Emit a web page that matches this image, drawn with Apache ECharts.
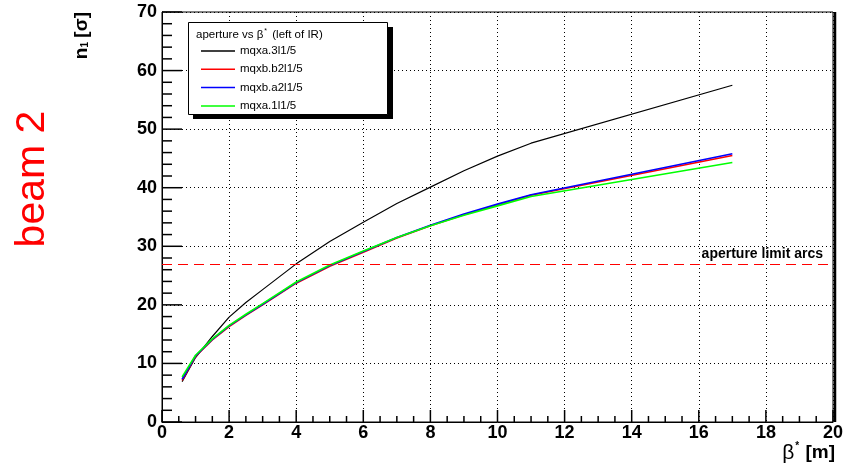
<!DOCTYPE html>
<html><head><meta charset="utf-8">
<script src="https://cdn.jsdelivr.net/npm/echarts@6/dist/echarts.min.js"></script>
<style>html,body{margin:0;padding:0;background:#fff}#c{width:846px;height:473px}</style>
</head><body><div id="c"></div>
<script>
// beta* [m]
const betaStar = [0.6, 1, 1.5, 2, 2.5, 3, 4, 5, 6, 7, 8, 9, 10, 11, 17];
const mqxa3 = [6.9, 11.0, 14.6, 17.9, 20.4, 22.6, 27.0, 30.8, 34.1, 37.3, 40.1, 42.9, 45.4, 47.6, 57.5];
const mqxbB2 = [7.1, 11.2, 14.0, 16.3, 18.2, 20.0, 23.7, 26.6, 29.0, 31.4, 33.5, 35.4, 37.1, 38.7, 45.5];
const mqxbA2 = [7.3, 11.3, 14.1, 16.4, 18.3, 20.1, 23.8, 26.7, 29.1, 31.5, 33.6, 35.5, 37.2, 38.8, 45.8];
const mqxa1 = [7.7, 11.4, 14.2, 16.5, 18.4, 20.2, 23.9, 26.8, 29.2, 31.5, 33.5, 35.3, 36.9, 38.5, 44.3];
const seriesNames = ['mqxa.3l1/5', 'mqxb.b2l1/5', 'mqxb.a2l1/5', 'mqxa.1l1/5'];
const apertureLimit = 27;
const xTicks = {min: 0, max: 20, step: 2, minorSplit: 4};
const yTicks = {min: 0, max: 70, step: 10, minorSplit: 5};

const FONT = 'Liberation Sans';
const pairs = ys => betaStar.map((x, i) => [x, ys[i]]);
const colors = ['#000000', '#ff0000', '#0000ff', '#00ff00'];
const widths = [1.2, 1.6, 1.6, 1.6];
const allData = [mqxa3, mqxbB2, mqxbA2, mqxa1];

function tickList(t) {
  const out = [];
  const minor = t.step / t.minorSplit;
  const n = Math.round((t.max - t.min) / minor);
  for (let k = 0; k <= n; k++) out.push([t.min + k * minor, k % t.minorSplit === 0 ? 1 : 0]);
  return out;
}
const xTickList = tickList(xTicks);
const yTickList = tickList(yTicks);

const chart = echarts.init(document.getElementById('c'), null, {renderer: 'canvas'});
const series = allData.map((d, i) => ({
  type: 'line', name: seriesNames[i], data: pairs(d), symbol: 'none', smooth: false,
  lineStyle: {color: colors[i], width: widths[i]}, itemStyle: {color: colors[i]}, z: 2 + i * 0.01
}));
series[0].markLine = {
  silent: true, symbol: 'none', animation: false,
  lineStyle: {color: '#ff0000', type: [10, 6], width: 1},
  label: {show: true, position: 'insideEndTop', formatter: 'aperture limit arcs',
    fontFamily: FONT, fontWeight: 'bold', fontSize: 14, color: '#000', distance: [10, 3]},
  data: [{yAxis: apertureLimit}]
};
series.push({
  type: 'custom', name: 'xticks', silent: true, clip: false, z: 10,
  data: xTickList.map(t => [t[0], yTicks.min, t[1]]),
  encode: {x: 0, y: 1},
  renderItem: (params, api) => {
    const p = api.coord([api.value(0), yTicks.min]);
    const len = api.value(2) ? 12 : 6;
    return {type: 'line', shape: {x1: p[0], y1: p[1], x2: p[0], y2: p[1] - len},
      style: {stroke: '#000000', lineWidth: 1.5, opacity: 1}};
  }
});
series.push({
  type: 'custom', name: 'yticks', silent: true, clip: false, z: 10,
  data: yTickList.map(t => [xTicks.min, t[0], t[1]]),
  encode: {x: 0, y: 1},
  renderItem: (params, api) => {
    const p = api.coord([xTicks.min, api.value(1)]);
    const len = api.value(2) ? 20 : 10;
    return {type: 'line', shape: {x1: p[0], y1: p[1], x2: p[0] + len, y2: p[1]},
      style: {stroke: '#000000', lineWidth: 1.5, opacity: 1}};
  }
});

chart.setOption({
  animation: false,
  grid: {left: 162, top: 12, right: 11, bottom: 51, show: true, borderColor: '#000', borderWidth: 1},
  xAxis: {
    type: 'value', min: xTicks.min, max: xTicks.max, interval: xTicks.step,
    axisLine: {lineStyle: {color: '#000', width: 1}},
    axisTick: {show: false}, minorTick: {show: false},
    splitLine: {show: true, lineStyle: {color: '#000', type: [1, 3], width: 1}},
    axisLabel: {fontFamily: FONT, fontWeight: 'bold', fontSize: 18, color: '#000', margin: 2}
  },
  yAxis: {
    type: 'value', min: yTicks.min, max: yTicks.max, interval: yTicks.step,
    axisLine: {show: true, lineStyle: {color: '#000', width: 1}},
    axisTick: {show: false}, minorTick: {show: false},
    splitLine: {show: true, lineStyle: {color: '#000', type: [1, 3], width: 1}},
    axisLabel: {fontFamily: FONT, fontWeight: 'bold', fontSize: 18, color: '#000', margin: 5}
  },
  legend: {
    orient: 'vertical', left: 196, top: 39, itemWidth: 34, itemHeight: 1.5, itemGap: 4.3,
    icon: 'rect', data: seriesNames, selectedMode: false, z: 12,
    textStyle: {fontFamily: FONT, fontSize: 11.5, color: '#000', lineHeight: 14}
  },
  series: series,
  graphic: [
    {type: 'rect', z: 11, shape: {x: 193, y: 27, width: 200, height: 92}, style: {fill: '#000'}},
    {type: 'rect', z: 11, shape: {x: 188.5, y: 22.5, width: 199, height: 92}, style: {fill: '#fff', stroke: '#000', lineWidth: 1}},
    {type: 'text', z: 13, left: 196, top: 28, style: {
      text: 'aperture vs β{s|*} (left of IR)', fontFamily: FONT, fontSize: 11.5, fill: '#000',
      rich: {s: {fontSize: 7, verticalAlign: 'top', padding: [0, 2, 6, 1], fontFamily: FONT}}}},
    {type: 'line', z: 13, shape: {x1: 835, y1: 12, x2: 835, y2: 422}, style: {stroke: '#000', lineWidth: 2.5}},
    {type: 'text', z: 13, right: 11, top: 441, style: {
      text: '{b|β}{s|*} {m|[m]}', fill: '#000',
      rich: {b: {fontFamily: FONT, fontSize: 21, fill: '#000'},
             s: {fontFamily: FONT, fontSize: 10, fontWeight: 'bold', padding: [0, 3, 14, 1], fill: '#000'},
             m: {fontFamily: FONT, fontSize: 19, fontWeight: 'bold', fill: '#000'}}}},
    {type: 'text', z: 13, x: 72, y: 12, rotation: Math.PI / 2, style: {
      text: '{n|n}{s|1} {n|[σ]}', align: 'right', verticalAlign: 'top', fill: '#000',
      rich: {n: {fontFamily: FONT, fontSize: 19, fontWeight: 'bold', fill: '#000'},
             s: {fontFamily: FONT, fontSize: 10, fontWeight: 'bold', padding: [8, 1, 0, 0], fill: '#000'}}}},
    {type: 'text', z: 13, x: 12, y: 179, rotation: Math.PI / 2, style: {
      text: 'beam 2', align: 'center', verticalAlign: 'top', fontFamily: FONT, fontSize: 41, fill: '#ff0000'}}
  ]
});
</script></body></html>
